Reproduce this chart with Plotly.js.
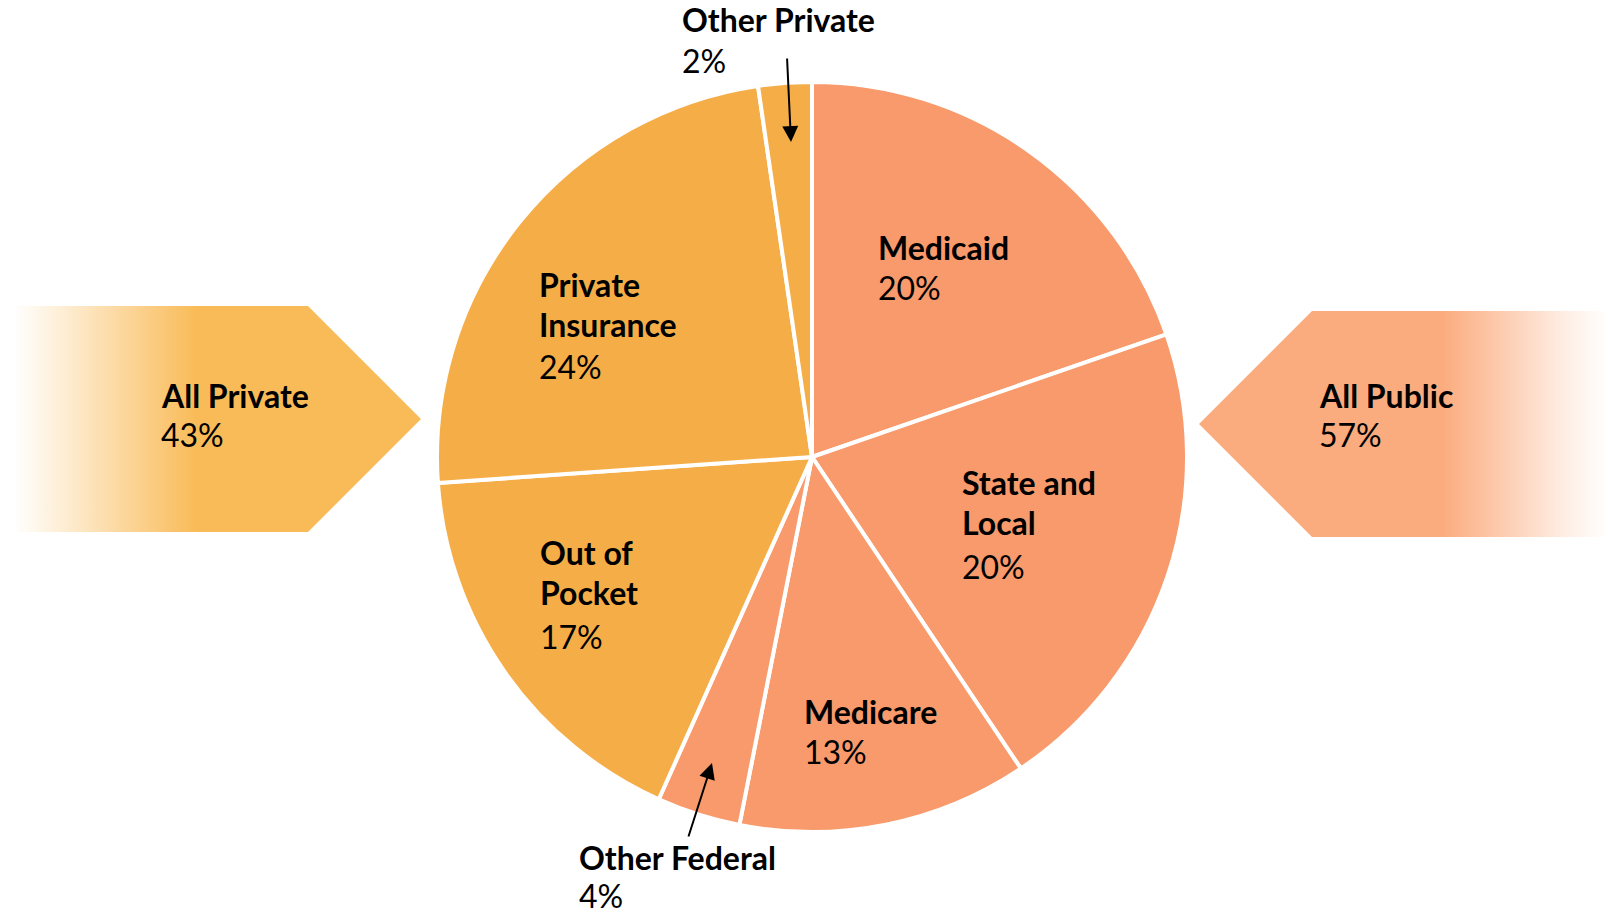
<!DOCTYPE html>
<html>
<head>
<meta charset="utf-8">
<script src="https://cdn.plot.ly/plotly-3.0.1.min.js"></script>
<style>html,body{margin:0;padding:0;background:#fff;}#chart{width:1614px;height:915px;}</style>
</head>
<body>
<div id="chart"></div>
<script>
// ---- data ----
const categories = ['Medicaid', 'State and Local', 'Medicare', 'Other Federal', 'Out of Pocket', 'Private Insurance', 'Other Private'];
const shares = [19.7, 20.9, 12.5, 3.6, 17.2, 23.8, 2.3];
const shareLabels = ['20%', '20%', '13%', '4%', '17%', '24%', '2%'];
const sectors = ['Public', 'Public', 'Public', 'Public', 'Private', 'Private', 'Private'];
const groupNames = ['All Private', 'All Public'];
const groupLabels = ['43%', '57%'];

// ---- styling / layout ----
const W = 1614, H = 915;
const sliceColor = {Public: '#F89A6B', Private: '#F5AE47'};
const bannerColor = {Private: [249, 187, 88], Public: [251, 172, 126]};
const pie = {cx: 812, cy: 457, r: 375};
const FONT = 'Lato, "Open Sans", sans-serif';
const FS = 32;
const DX = -4, DY = -3;

// label line positions in pixels (left x, y of each line; last is the percent line)
const labelLines = [
  ['Medicaid'], ['State and', 'Local'], ['Medicare'], ['Other Federal'],
  ['Out of', 'Pocket'], ['Private', 'Insurance'], ['Other Private']
];
const labelPos = [
  {x: 880, ys: [250], py: 290},
  {x: 964, ys: [485, 525], py: 569},
  {x: 806, ys: [714], py: 754},
  {x: 581, ys: [860], py: 898},
  {x: 542, ys: [555, 595], py: 639},
  {x: 541, ys: [287, 327], py: 369},
  {x: 684, ys: [22], py: 63}
];
const groupPos = [{x: 163, y: 398, py: 437}, {x: 1321, y: 398, py: 437}];
const callouts = [
  {i: 6, head: [791, 142], tail: [787, 57]},
  {i: 3, head: [712, 763], tail: [688, 838]}
];
const banners = [
  {sector: 'Private', pts: [[13, 306], [308, 306], [421, 419], [308, 532], [13, 532], [13, 306]], dir: 1},
  {sector: 'Public', pts: [[1607, 311], [1312, 311], [1199, 424], [1312, 537], [1607, 537], [1607, 311]], dir: -1}
];

const traces = [];
banners.forEach(b => {
  const c = bannerColor[b.sector];
  const solid = `rgb(${c[0]},${c[1]},${c[2]})`;
  const clear = `rgba(${c[0]},${c[1]},${c[2]},0)`;
  let cs;
  if (b.dir === 1) {
    cs = [[0, clear], [0.12, `rgba(${c[0]},${c[1]},${c[2]},0.25)`], [0.45, solid], [1, solid]];
  } else {
    const s = (1443 - 1199) / (1607 - 1199);
    cs = [[0, solid], [s, solid], [0.88, `rgba(${c[0]},${c[1]},${c[2]},0.25)`], [1, clear]];
  }
  traces.push({
    type: 'scatter', mode: 'lines',
    x: b.pts.map(p => p[0]), y: b.pts.map(p => p[1]),
    fill: 'toself', line: {width: 0, color: 'rgba(0,0,0,0)'},
    fillgradient: {type: 'horizontal', colorscale: cs},
    hoverinfo: 'skip', showlegend: false
  });
});

traces.push({
  type: 'pie',
  labels: categories,
  values: shares,
  sort: false,
  direction: 'clockwise',
  rotation: 0,
  textinfo: 'none',
  hoverinfo: 'skip',
  marker: {colors: sectors.map(s => sliceColor[s]), line: {color: '#ffffff', width: 4}},
  domain: {
    x: [(pie.cx - pie.r) / W, (pie.cx + pie.r) / W],
    y: [(H - pie.cy - pie.r) / H, (H - pie.cy + pie.r) / H]
  },
  showlegend: false
});

const annotations = [];
function addText(text, x, y, bold) {
  annotations.push({
    xref: 'x', yref: 'y', x: x + DX, y: y + DY, xanchor: 'left', yanchor: 'middle',
    text: bold ? '<b>' + text + '</b>' : text, showarrow: false,
    font: {family: FONT, size: FS, color: '#000000'}
  });
}
categories.forEach((c, i) => {
  const p = labelPos[i];
  labelLines[i].forEach((ln, k) => addText(ln, p.x, p.ys[k], true));
  addText(shareLabels[i], p.x, p.py, false);
});
groupNames.forEach((g, i) => {
  addText(g, groupPos[i].x, groupPos[i].y, true);
  addText(groupLabels[i], groupPos[i].x, groupPos[i].py, false);
});
callouts.forEach(c => {
  annotations.push({
    xref: 'x', yref: 'y', axref: 'x', ayref: 'y',
    x: c.head[0], y: c.head[1], ax: c.tail[0], ay: c.tail[1],
    text: '', showarrow: true, arrowhead: 2, arrowsize: 1.6, arrowwidth: 2,
    arrowcolor: '#000000', standoff: 0, startstandoff: 0
  });
});

const layout = {
  width: W, height: H,
  margin: {l: 0, r: 0, t: 0, b: 0},
  paper_bgcolor: '#ffffff', plot_bgcolor: '#ffffff',
  xaxis: {range: [0, W], visible: false, fixedrange: true},
  yaxis: {range: [H, 0], visible: false, fixedrange: true},
  hovermode: false,
  showlegend: false,
  annotations: annotations
};

Plotly.newPlot('chart', traces, layout, {displayModeBar: false, staticPlot: true});
</script>
</body>
</html>
